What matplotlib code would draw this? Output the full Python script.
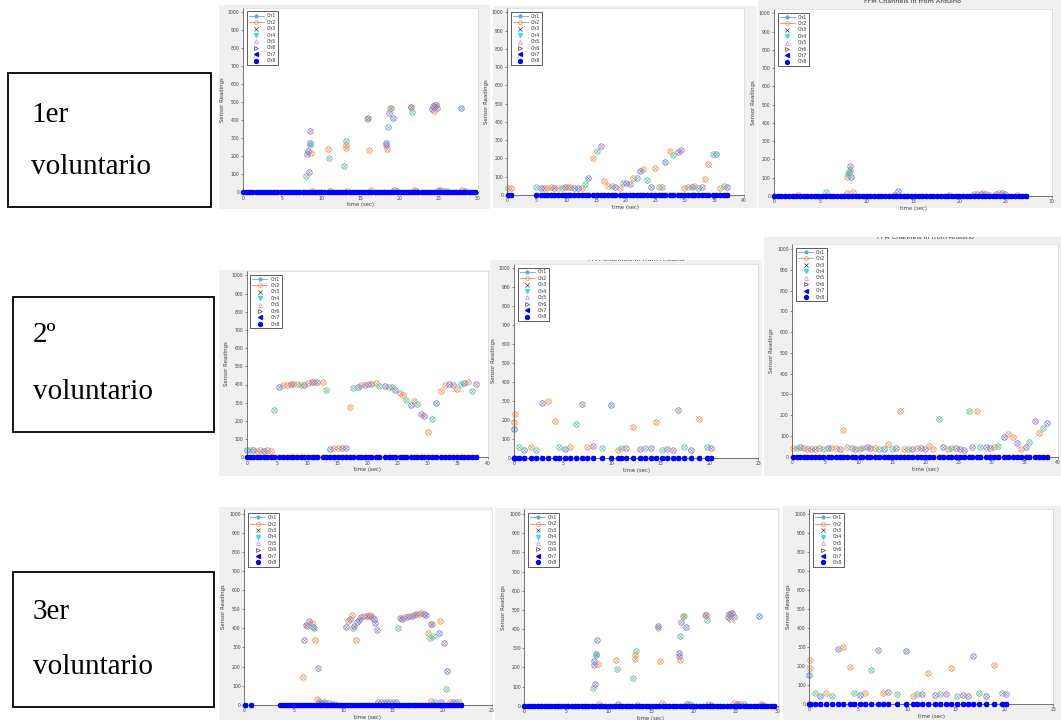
import matplotlib
matplotlib.use("Agg")
import matplotlib.pyplot as plt
from matplotlib.patches import Rectangle
from matplotlib.lines import Line2D
from matplotlib.transforms import Bbox, TransformedBbox

# ---------------- data ----------------
channels = ["Ch1", "Ch2", "Ch3", "Ch4", "Ch5", "Ch6", "Ch7", "Ch8"]
row_labels = [("1er", "voluntario"), ("2º", "voluntario"), ("3er", "voluntario")]
title_text = "FFM Channels in from Arduino"

# panel A (row 1 col 1, repeated row 3 col 2)
a_t = [8.1, 8.4, 8.2, 8.3, 8.5, 8.55, 8.6, 8.7, 10.9, 11.0, 12.9, 13.1, 13.15, 13.2, 15.8, 15.9,
       16.1, 18.3, 18.3, 18.4, 18.5, 18.6, 18.8, 18.95, 19.1, 21.4, 21.5, 21.6, 24.1, 24.3, 24.4,
       24.5, 24.6, 24.8, 27.8,
       8.8, 11.1, 13.3, 16.3, 19.3, 19.6, 21.8, 22.1, 24.9, 25.2, 25.6, 26.0, 28.0, 28.3]
a_v = [90, 115, 212, 231, 272, 262, 342, 216, 238, 190, 146, 246, 263, 283, 405, 414,
       233, 274, 260, 240, 364, 438, 466, 466, 410, 475, 475, 445, 462, 478, 450,
       482, 482, 465, 470,
       8, 7, 6, 12, 10, 8, 10, 6, 12, 10, 9, 7, 10, 6]
a_c = "gppbbgpooggoogobobpogpogbopgpbooppb" + "opoopgopopogop"
a_band = [0.0, 0.4, 0.8, 1.2, 1.6, 2.0, 2.4, 2.8, 3.2, 3.6, 4.0, 4.4, 4.8, 5.2, 5.6, 6.0, 6.4,
          6.8, 7.2, 7.6, 8.0, 8.4, 8.8, 9.2, 9.6, 10.0, 10.4, 10.8, 11.2, 11.6, 12.0, 12.4, 12.8,
          13.2, 13.6, 14.0, 14.4, 14.8, 15.2, 15.6, 16.0, 16.4, 16.8, 17.2, 17.6, 18.0, 18.4,
          18.8, 19.2, 19.6, 20.0, 20.4, 20.8, 21.2, 21.6, 22.0, 22.4, 22.8, 23.2, 23.6, 24.0,
          24.4, 24.8, 25.2, 25.6, 26.0, 26.4, 26.8, 27.2, 27.6, 28.0, 28.4, 28.8, 29.2, 29.6]

# panel B (row 1 col 2)
b_t = [0.2, 0.7, 4.9, 5.8, 6.2, 6.7, 7.4, 8.0, 8.6, 9.2, 9.8, 10.3, 10.7, 11.3, 12.0, 12.6,
       13.2, 13.7, 14.5, 15.2, 15.8, 16.4, 17.1, 17.8, 18.3, 19.0, 19.6, 20.1, 20.7, 21.2,
       21.9, 22.4, 23.0, 23.7, 24.3, 25.0, 25.6, 26.2, 26.7, 27.5, 28.1, 28.8, 29.4, 29.9,
       30.6, 31.2, 31.6, 32.2, 32.9, 33.4, 34.0, 34.7, 35.2, 35.9, 36.6, 37.2]
b_v = [40, 37, 42, 36, 40, 36, 42, 40, 40, 38, 44, 46, 42, 38, 40, 38,
       58, 93, 204, 239, 266, 75, 49, 47, 42, 38, 66, 66, 60, 93,
       95, 131, 142, 82, 46, 146, 42, 44, 181, 243, 221, 235, 248, 40,
       44, 44, 47, 40, 46, 89, 170, 224, 226, 40, 47, 44]
b_c = "oogbooopogpoobbogbogpoogpogppogbogboogbogppogpogpoogbogp"

# panel C (row 1 col 3)
c_t = [7.9, 8.0, 8.1, 8.2, 8.25, 8.35,
       2.6, 5.6, 7.85, 8.5, 13.0, 13.4, 18.9, 21.6, 21.9, 22.3, 22.6, 22.9, 23.2, 24.0,
       24.3, 24.6, 24.9, 26.2]
c_v = [106, 120, 133, 166, 140, 106,
       4, 20, 18, 20, 8, 29, 6, 10, 12, 12, 14, 12, 8, 12, 14, 15, 10, 5]
c_c = "ogbpgb" + "ogoopbogopogopopgo"
c_band = [0.0, 0.4, 0.8, 1.2, 1.6, 2.0, 2.4, 2.8, 3.2, 3.6, 4.0, 4.4, 4.8, 5.2, 5.6, 6.0, 6.4,
          6.8, 7.2, 7.6, 8.0, 8.4, 8.8, 9.2, 9.6, 10.0, 10.4, 10.8, 11.2, 11.6, 12.0, 12.4, 12.8,
          13.2, 13.6, 14.0, 14.4, 14.8, 15.2, 15.6, 16.0, 16.4, 16.8, 17.2, 17.6, 18.0, 18.4,
          18.8, 19.2, 19.6, 20.0, 20.4, 20.8, 21.2, 21.6, 22.0, 22.4, 22.8, 23.2, 23.6, 24.0,
          24.4, 24.8, 25.2, 25.6, 26.0, 26.4, 26.8, 27.2]

# panel D (row 2 col 1)
d_t = [0.1, 0.55, 1.1, 1.7, 2.2, 2.9, 3.4, 4.0, 4.6, 5.3, 6.0, 6.75, 7.3, 7.75, 8.3, 9.0, 9.5,
       10.2, 10.8, 11.2, 11.7, 12.6, 13.2, 13.8, 14.5, 15.2, 15.8, 16.4, 17.1, 17.7, 18.4,
       19.0, 19.6, 20.1, 20.6, 21.4, 22.0, 23.0, 23.6, 24.1, 24.6, 25.5, 26.0, 26.5, 27.2,
       27.7, 28.2, 28.9, 29.4, 30.05, 30.8, 31.4, 32.3, 32.9, 33.6, 34.2, 34.9, 35.6, 36.1,
       36.8, 37.4, 38.0]
d_v = [38, 42, 40, 36, 42, 37, 41, 37, 262, 385, 395, 397, 405, 405, 402, 395, 397,
       410, 412, 413, 415, 415, 370, 48, 49, 52, 50, 52, 277, 380, 385,
       395, 398, 402, 403, 408, 392, 390, 388, 386, 368, 355, 340, 315, 290,
       310, 295, 236, 225, 140, 212, 300, 362, 398, 402, 395, 378, 405, 408,
       412, 365, 402]
d_c = "bgbooboogboopoogbopopogbooppogbopopogbogboogbogppogbooppogbogp"

# panel E (row 2 col 2, repeated row 3 col 3)
e_t = [0.0, 0.03, 0.1, 0.55, 1.05, 1.7, 2.3, 2.9, 3.5, 4.2, 4.6, 5.2, 5.7, 6.3, 7.0, 7.5,
       8.1, 9.0, 9.9, 10.6, 11.0, 11.5, 12.2, 12.9, 13.4, 14.0, 14.5, 15.1, 15.7, 16.3,
       16.8, 17.4, 18.1, 18.9, 19.7, 20.2]
e_v = [150, 187, 229, 55, 40, 55, 40, 290, 300, 195, 55, 46, 56, 176, 282, 55,
       63, 49, 276, 40, 53, 53, 160, 48, 53, 53, 187, 40, 48, 40,
       253, 56, 40, 204, 55, 53]
e_c = "boogbogpoogbogpopgbogpopgpogpppgbogp"

# panel F (row 2 col 3)
f_t = [0.05, 0.65, 1.15, 1.7, 2.25, 2.8, 3.4, 4.05, 4.65, 5.35, 5.9, 6.65, 7.15, 7.7, 8.25,
       8.95, 9.5, 10.15, 10.55, 11.2, 11.7, 12.4, 13.1, 13.8, 14.4, 14.95, 15.6, 16.2, 16.8,
       17.45, 18.05, 18.7, 19.4, 20.0, 20.65, 21.15, 22.05, 22.7, 23.4, 23.9, 24.6, 25.2,
       25.8, 26.55, 27.1, 27.75, 28.3, 29.1, 29.7, 30.4, 31.0, 31.8, 32.5, 33.2, 33.8, 34.5,
       35.2, 35.7, 36.5, 37.2, 37.8, 38.4]
f_v = [40, 40, 45, 40, 37, 35, 35, 43, 38, 40, 42, 43, 38, 127, 46,
       43, 35, 35, 40, 45, 40, 43, 37, 38, 60, 38, 40, 220, 38,
       38, 38, 43, 43, 35, 53, 38, 180, 46, 38, 43, 40, 38,
       32, 220, 46, 220, 45, 45, 40, 45, 51, 93, 109, 93, 67, 38,
       45, 70, 172, 116, 140, 160]
f_c = "ogbooppogboopoogpogppogbogpoogpoppoogbogpppgpogppogboopopgpogp"

# panel G (row 3 col 1)
g_t = [5.9, 6.0, 6.2, 6.35, 6.55, 6.8, 6.9, 7.0, 7.15, 7.4, 7.3,
       10.3, 10.5, 10.7, 10.9, 11.0, 11.1, 11.3, 11.4, 11.6, 11.8, 12.05, 12.35, 12.6, 12.75,
       12.95, 13.1, 13.2, 13.4,
       15.55, 15.7, 15.95, 16.15, 16.4, 16.6, 16.9, 17.1, 17.4, 17.7, 17.9, 18.2, 18.4,
       18.6, 18.75, 18.9, 19.0, 19.05, 19.7, 19.8, 20.2, 20.45, 20.4,
       7.5, 7.7, 7.9, 8.1, 8.3, 8.6, 8.9, 9.2, 13.5, 13.8, 14.1, 14.4, 14.7, 15.0, 15.3,
       18.9, 19.3, 19.9, 20.8, 21.1, 21.4, 21.7]
g_v = [145, 337, 416, 414, 437, 430, 409, 404, 337, 192, 30,
       409, 437, 448, 470, 400, 411, 337, 434, 446, 461, 467, 463, 465, 470,
       458, 451, 426, 390,
       400, 453, 449, 458, 461, 463, 466, 472, 474, 477, 479, 474, 468,
       376, 348, 425, 423, 362, 376, 439, 325, 175, 84,
       15, 12, 10, 12, 10, 8, 6, 5, 15, 16, 14, 16, 14, 15, 12,
       18, 16, 14, 14, 16, 15, 16]
g_c = ("opbopobgopo" + "popogpobppopoopbpp" + "gpbopobopoobp" + "ogpog" + "bopbg"
       + "opgpogpo" + "pogpogp" + "ogp" + "opgo")
g_band = [0.05, 0.65, 3.6, 3.9, 4.2, 4.5, 4.8, 5.1, 5.4, 5.7, 6.0, 6.3, 6.6, 6.9, 7.2, 7.5,
          7.8, 8.1, 8.4, 8.7, 9.0, 9.3, 9.6, 9.9, 10.2, 10.5, 10.8, 11.1, 11.4, 11.7, 12.0,
          12.3, 12.6, 12.9, 13.2, 13.5, 13.8, 14.1, 14.4, 14.7, 15.0, 15.3, 15.6, 15.9, 16.2,
          16.5, 16.8, 17.1, 17.4, 17.7, 18.0, 18.3, 18.6, 18.9, 19.2, 19.5, 19.8, 20.1, 20.4,
          20.7, 21.0, 21.3, 21.6, 21.9]

# ---------------- figure ----------------
W, H = 1061, 720
fig = plt.figure(figsize=(W / 100, H / 100), dpi=100)
fig.patch.set_facecolor("white")

RING = {"o": "#f4a05c", "b": "#7090dc", "g": "#72c8a4", "p": "#a486cc"}
CROSS = {"o": "#c8763e", "b": "#4a5aa8", "g": "#3f9070", "p": "#74549a"}
BG = "#f0f0f0"
AX = "#404040"


def frac_rect(x0, y0, x1, y1):
    return [x0 / W, 1 - y1 / H, (x1 - x0) / W, (y1 - y0) / H]


def screenshot(box):
    x0, y0, x1, y1 = box
    fig.add_artist(Rectangle((x0 / W, 1 - y1 / H), (x1 - x0) / W, (y1 - y0) / H,
                             transform=fig.transFigure, facecolor=BG,
                             edgecolor="none", zorder=-10))


def legend_handles():
    return [
        Line2D([], [], color="#5aaee8", marker="*", ms=2.8, lw=0.6),
        Line2D([], [], color="#f08a50", marker="o", mfc="none", ms=2.8, lw=0.6, mew=0.5),
        Line2D([], [], color="#303030", marker="x", ls="none", ms=2.2, mew=0.5),
        Line2D([], [], color="#30e0f0", marker="v", ls="none", ms=2.8),
        Line2D([], [], color="#f070f0", marker="^", mfc="none", ls="none", ms=2.8, mew=0.5),
        Line2D([], [], color="#404040", marker=">", mfc="none", ls="none", ms=2.8, mew=0.5),
        Line2D([], [], color="#0000ff", marker="<", ls="none", ms=2.8),
        Line2D([], [], color="#0000ff", marker="o", ls="none", ms=2.8),
    ]


def panel(box, sbox, xmax, t, v, c, band, title_y=None):
    left, right, y0, y1000 = box
    ppu = (y0 - y1000) / 1000.0
    top = y0 - ppu * 1024
    ax = fig.add_axes(frac_rect(left, top, right, y0))
    ax.set_facecolor("white")
    ax.set_xlim(0, xmax)
    ax.set_ylim(0, 1024)
    ax.set_xticks(range(0, xmax + 1, 5))
    ax.set_yticks(range(0, 1001, 100))
    ax.tick_params(labelsize=3.3, length=1.5, width=0.4, pad=1, colors=AX)
    for s in ["left", "bottom"]:
        ax.spines[s].set_color(AX)
        ax.spines[s].set_linewidth(0.5)
    for s in ["top", "right"]:
        ax.spines[s].set_color("#cfcfcf")
        ax.spines[s].set_linewidth(0.4)
    ax.set_xlabel("time (sec)", fontsize=3.9, labelpad=1, color=AX)
    ax.set_ylabel("Sensor Readings", fontsize=3.9, labelpad=2, color=AX)
    for key in "obgp":
        tt = [ti for ti, ci in zip(t, c) if ci == key]
        vv = [vi for vi, ci in zip(v, c) if ci == key]
        ax.plot(tt, vv, ls="none", marker="o", ms=3.9, mfc="none", mec=RING[key],
                mew=0.7, clip_on=False, zorder=2)
        ax.plot(tt, vv, ls="none", marker="x", ms=2.1, color=CROSS[key],
                mew=0.4, alpha=0.75, clip_on=False, zorder=2)
    zeros = [0] * len(band)
    ax.plot(band, zeros, ls="none", marker="<", ms=2.6, color="#0000ff",
            clip_on=False, zorder=3)
    ax.plot(band, zeros, ls="none", marker="o", ms=3.0, color="#0000ff",
            clip_on=False, zorder=4)
    leg = ax.legend(legend_handles(), channels, loc="upper left", fontsize=3.4,
                    frameon=True, fancybox=False, edgecolor=AX, borderpad=0.4,
                    labelspacing=0.3, handlelength=3.2, handletextpad=0.6,
                    borderaxespad=0.8, framealpha=1)
    leg.get_frame().set_linewidth(0.6)
    for txt in leg.get_texts():
        txt.set_color("#303030")
    if title_y is not None:
        tx = fig.text((left + right) / 2 / W, 1 - title_y / H, title_text,
                      fontsize=4.6, ha="center", va="center", color="#303030")
        x0, y0s, x1, y1s = sbox
        clip = TransformedBbox(Bbox.from_extents(x0 / W, 1 - y1s / H, x1 / W, 1 - y0s / H),
                               fig.transFigure)
        tx.set_clip_box(clip)
        tx.set_clip_on(True)
    return ax


layout = [
    # axes (left, right, y of 0, y of 1000), screenshot box, xmax, data, title y
    ((243, 478, 192.3, 12.0), (219, 5, 490, 209), 30, a_t, a_v, a_c, a_band, None),
    ((507, 744, 195.0, 12.3), (493, 6, 757, 208), 40, b_t, b_v, b_c, b_t, None),
    ((774, 1052, 196.0, 13.3), (758, 0, 1061, 208), 30, c_t, c_v, c_c, c_band, 1.5),
    ((246.7, 487.7, 457.3, 275.3), (219, 270, 490, 476), 40, d_t, d_v, d_c, d_t, None),
    ((514, 758.3, 457.7, 268.3), (490, 260, 762, 476), 25, e_t, e_v, e_c, e_t, 259),
    ((792.3, 1058, 456.7, 249.0), (764, 237, 1061, 476), 40, f_t, f_v, f_c, f_t, 238),
    ((244.3, 491.7, 704.7, 514.0), (219, 507, 492, 720), 25, g_t, g_v, g_c, g_band, None),
    ((524.3, 777.5, 705.7, 514.0), (495, 508, 780, 720), 30, a_t, a_v, a_c, a_band, None),
    ((809.3, 1053.3, 703.7, 514.0), (783, 506, 1061, 720), 25, e_t, e_v, e_c, e_t, 505),
]

for box, sbox, xmax, t, v, c, band, ty in layout:
    screenshot(sbox)
    panel(box, sbox, xmax, t, v, c, band, ty)

# label boxes
label_boxes = [((8, 73, 211, 207), 31, 115, 167),
               ((13, 297, 214, 432), 33, 335, 392),
               ((13, 572, 214, 707), 33, 612, 667)]
for (lb, tx, y1, y2), (l1, l2) in zip(label_boxes, row_labels):
    x0, y0, x1, y1b = lb
    fig.add_artist(Rectangle((x0 / W, 1 - y1b / H), (x1 - x0) / W, (y1b - y0) / H,
                             transform=fig.transFigure, facecolor="white",
                             edgecolor="black", lw=1.3, zorder=1))
    fig.text(tx / W, 1 - y1 / H, l1, fontsize=21, family="Liberation Serif",
             ha="left", va="center", color="black", zorder=2)
    fig.text(tx / W, 1 - y2 / H, l2, fontsize=21, family="Liberation Serif",
             ha="left", va="center", color="black", zorder=2)

fig.savefig("out.png", dpi=100, facecolor="white")
